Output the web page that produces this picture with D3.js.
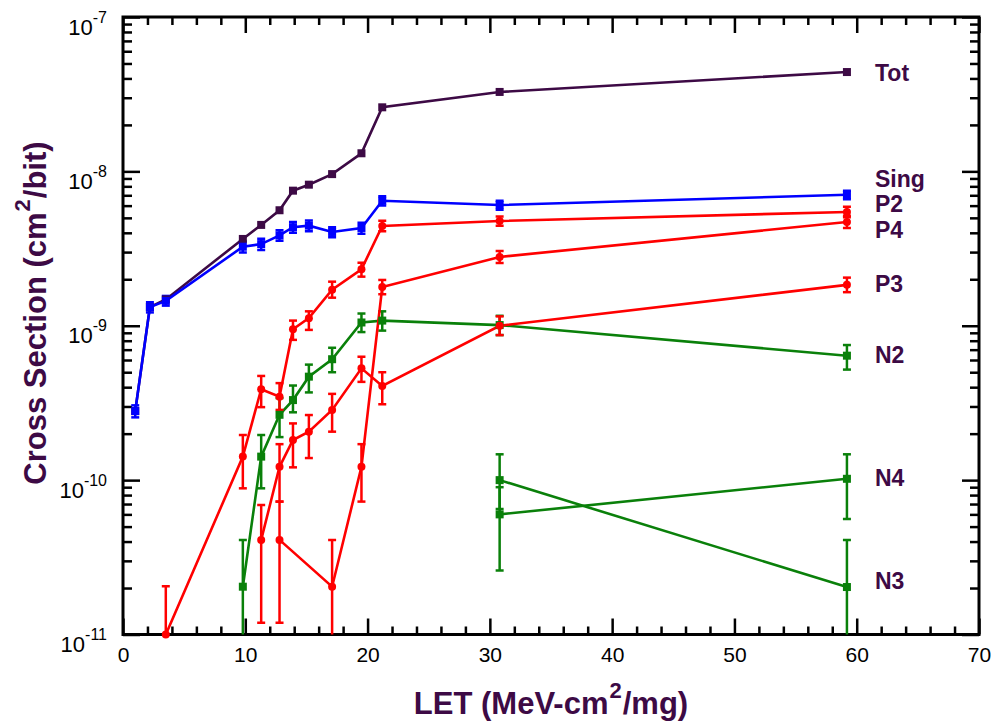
<!DOCTYPE html>
<html>
<head>
<meta charset="utf-8">
<script src="https://cdn.jsdelivr.net/npm/d3@7"></script>
<style>
  body { margin: 0; background: #fff; }
  svg { display: block; font-family: "Liberation Sans", Arial, sans-serif; }
</style>
</head>
<body>
<svg id="chart" width="993" height="723"></svg>
<script>
// LET values (MeV-cm2/mg)
const letSing = [1.0, 2.2, 3.5, 9.8, 11.3, 12.8, 13.9, 15.2, 17.1, 19.5, 21.2, 30.8, 59.2];
const letP2 = [3.5, 9.8, 11.3, 12.8, 13.9, 15.2, 17.1, 19.5, 21.2, 30.8, 59.2];
const letP3 = [11.3, 12.8, 13.9, 15.2, 17.1, 19.5, 21.2, 30.8, 59.2];
const letP4 = [12.8, 17.1, 19.5, 21.2, 30.8, 59.2];
const letN2 = [9.8, 11.3, 12.8, 13.9, 15.2, 17.1, 19.5, 21.2, 30.8, 59.2];
const letN34 = [30.8, 59.2];

// cross sections (cm2/bit), with lower / upper error ends
const tot = [2.8e-10, 1.32e-9, 1.48e-9, 3.65e-9, 4.5e-9, 5.6e-9, 7.5e-9, 8.2e-9, 9.6e-9, 1.31e-8, 2.6e-8, 3.27e-8, 4.4e-8];

const sing   = [2.8e-10, 1.32e-9, 1.45e-9, 3.25e-9, 3.38e-9, 3.85e-9, 4.35e-9, 4.45e-9, 4.05e-9, 4.3e-9, 6.45e-9, 6.05e-9, 7.05e-9];
const singLo = [2.55e-10, 1.22e-9, 1.35e-9, 2.98e-9, 3.1e-9, 3.55e-9, 4.0e-9, 4.1e-9, 3.75e-9, 3.95e-9, 6.0e-9, 5.65e-9, 6.6e-9];
const singHi = [3.05e-10, 1.42e-9, 1.56e-9, 3.52e-9, 3.66e-9, 4.15e-9, 4.7e-9, 4.8e-9, 4.35e-9, 4.65e-9, 6.9e-9, 6.45e-9, 7.5e-9];

const p2   = [1.0e-11, 1.42e-10, 3.88e-10, 3.47e-10, 9.5e-10, 1.12e-9, 1.71e-9, 2.32e-9, 4.43e-9, 4.77e-9, 5.46e-9];
const p2Lo = [5e-12, 8.85e-11, 2.97e-10, 2.85e-10, 8.1e-10, 9.4e-10, 1.52e-9, 2.08e-9, 4.1e-9, 4.45e-9, 5.05e-9];
const p2Hi = [2.05e-11, 1.96e-10, 4.73e-10, 4.25e-10, 1.08e-9, 1.24e-9, 1.93e-9, 2.56e-9, 4.78e-9, 5.1e-9, 5.9e-9];

const p3   = [4.1e-11, 1.22e-10, 1.82e-10, 2.06e-10, 2.85e-10, 5.3e-10, 4.07e-10, 1.0e-9, 1.84e-9];
const p3Lo = [1.19e-11, 7.26e-11, 1.21e-10, 1.39e-10, 2.06e-10, 4.33e-10, 3.1e-10, 8.7e-10, 1.65e-9];
const p3Hi = [6.9e-11, 1.71e-10, 2.33e-10, 2.64e-10, 3.62e-10, 6.3e-10, 5.0e-10, 1.15e-9, 2.05e-9];

const p4   = [4.1e-11, 2.04e-11, 1.22e-10, 1.78e-9, 2.79e-9, 4.7e-9];
const p4Lo = [1.19e-11, 5e-12, 7.26e-11, 1.6e-9, 2.55e-9, 4.3e-9];
const p4Hi = [7.26e-11, 4.1e-11, 1.71e-10, 1.98e-9, 3.05e-9, 5.15e-9];

const n2   = [2.04e-11, 1.42e-10, 2.65e-10, 3.3e-10, 4.68e-10, 6.07e-10, 1.05e-9, 1.08e-9, 1.01e-9, 6.4e-10];
const n2Lo = [5e-12, 8.85e-11, 1.9e-10, 2.75e-10, 3.7e-10, 5.0e-10, 9.1e-10, 9.3e-10, 8.7e-10, 5.2e-10];
const n2Hi = [4.1e-11, 1.96e-10, 3.4e-10, 4.1e-10, 5.6e-10, 7.2e-10, 1.2e-9, 1.24e-9, 1.16e-9, 7.5e-10];

const n4   = [6.0e-11, 1.02e-10];
const n4Lo = [2.6e-11, 5.6e-11];
const n4Hi = [9.0e-11, 1.47e-10];

const n3   = [1.0e-10, 2.03e-11];
const n3Lo = [6.5e-11, 5e-12];
const n3Hi = [1.47e-10, 4.1e-11];

// curve names at the right, and where they sit
const labelNames = ["Tot", "Sing", "P2", "P4", "P3", "N2", "N4", "N3"];
const labelPos = [4.35e-8, 8.9e-9, 6.15e-9, 4.17e-9, 1.87e-9, 6.47e-10, 1.03e-10, 2.22e-11];

const xTicks = [0, 10, 20, 30, 40, 50, 60, 70];
const yTicks = [1e-11, 1e-10, 1e-9, 1e-8, 1e-7];

const purple = "#3d0a45", blue = "#0000ff", red = "#ff0000", green = "#0a800a";

let svg = d3.select("#chart");
let pLeft = 123, pRight = 979, pTop = 17, pBottom = 634.5;

let x = d3.scaleLinear().domain([0, 70]).range([pLeft, pRight]);
let y = d3.scaleLog().domain([1e-11, 1e-7]).range([pBottom, pTop]);

svg.append("clipPath").attr("id", "clip")
  .append("rect")
  .attr("x", pLeft).attr("y", pTop)
  .attr("width", pRight - pLeft).attr("height", pBottom - pTop);

// minor ticks: every 2 on x, 2..9 per decade on y
let xMinor = d3.range(0, 71, 2).filter(d => d % 10 !== 0);
let yMinor = [];
yTicks.slice(0, -1).forEach(d => { for (let k = 2; k <= 9; k++) yMinor.push(d * k); });

function styleAxis(g) {
  g.select(".domain").remove();
  g.selectAll(".tick line").attr("stroke", "#000").attr("stroke-width", 2.5);
}

svg.append("g").attr("transform", `translate(0,${pBottom})`)
  .call(d3.axisBottom(x).tickValues(xTicks).tickSize(-16).tickPadding(13).tickFormat(d3.format("d")))
  .call(styleAxis)
  .selectAll("text").attr("font-size", 21).attr("fill", "#000")
  .attr("font-family", "Liberation Sans, Arial, sans-serif");
svg.append("g").attr("transform", `translate(0,${pBottom})`)
  .call(d3.axisBottom(x).tickValues(xMinor).tickSize(-8).tickFormat(""))
  .call(styleAxis);
svg.append("g").attr("transform", `translate(0,${pTop})`)
  .call(d3.axisTop(x).tickValues(xTicks).tickSize(-16).tickFormat(""))
  .call(styleAxis);
svg.append("g").attr("transform", `translate(0,${pTop})`)
  .call(d3.axisTop(x).tickValues(xMinor).tickSize(-8).tickFormat(""))
  .call(styleAxis);

let yAxisG = svg.append("g").attr("transform", `translate(${pLeft},0)`)
  .call(d3.axisLeft(y).tickValues(yTicks).tickSize(-17).tickFormat(""))
  .call(styleAxis);
svg.append("g").attr("transform", `translate(${pLeft},0)`)
  .call(d3.axisLeft(y).tickValues(yMinor).tickSize(-9).tickFormat(""))
  .call(styleAxis);
svg.append("g").attr("transform", `translate(${pRight},0)`)
  .call(d3.axisRight(y).tickValues(yTicks).tickSize(-17).tickFormat(""))
  .call(styleAxis);
svg.append("g").attr("transform", `translate(${pRight},0)`)
  .call(d3.axisRight(y).tickValues(yMinor).tickSize(-9).tickFormat(""))
  .call(styleAxis);

// y tick labels as 10 with superscript exponent
yAxisG.selectAll(".tick").each(function (d) {
  let t = d3.select(this).append("text")
    .attr("x", -16).attr("y", 17)
    .attr("text-anchor", "end")
    .attr("fill", "#000")
    .attr("font-size", 22);
  t.append("tspan").text("10");
  t.append("tspan").attr("font-size", 16).attr("dy", -12)
    .text(Math.round(Math.log10(d)));
});

// frame
svg.append("rect")
  .attr("x", pLeft).attr("y", pTop)
  .attr("width", pRight - pLeft).attr("height", pBottom - pTop)
  .attr("fill", "none").attr("stroke", "#000").attr("stroke-width", 3);

let plot = svg.append("g");
let clipped = plot.append("g").attr("clip-path", "url(#clip)");

let line = d3.line().x(d => x(d[0])).y(d => y(d[1]));

function drawSeries(lets, vals, lo, hi, color, shape) {
  let pts = lets.map((l, i) => [l, vals[i]]);
  if (lo) {
    lets.forEach((l, i) => {
      let px = x(l);
      let g = clipped.append("g").attr("stroke", color).attr("stroke-width", 2.5);
      g.append("line").attr("x1", px).attr("x2", px).attr("y1", y(lo[i])).attr("y2", y(hi[i]));
      g.append("line").attr("x1", px - 4).attr("x2", px + 4).attr("y1", y(lo[i])).attr("y2", y(lo[i]));
      g.append("line").attr("x1", px - 4).attr("x2", px + 4).attr("y1", y(hi[i])).attr("y2", y(hi[i]));
    });
  }
  clipped.append("path").datum(pts)
    .attr("fill", "none").attr("stroke", color).attr("stroke-width", 2.6)
    .attr("d", line);
  if (shape === "circle") {
    plot.selectAll(null).data(pts).enter().append("circle")
      .attr("cx", d => x(d[0])).attr("cy", d => y(d[1])).attr("r", 4)
      .attr("fill", color);
  } else {
    plot.selectAll(null).data(pts).enter().append("rect")
      .attr("x", d => x(d[0]) - 4).attr("y", d => y(d[1]) - 4)
      .attr("width", 8).attr("height", 8)
      .attr("fill", color);
  }
}

drawSeries(letSing, tot, null, null, purple, "square");
drawSeries(letN2, n2, n2Lo, n2Hi, green, "square");
drawSeries(letN34, n4, n4Lo, n4Hi, green, "square");
drawSeries(letN34, n3, n3Lo, n3Hi, green, "square");
drawSeries(letP2, p2, p2Lo, p2Hi, red, "circle");
drawSeries(letP3, p3, p3Lo, p3Hi, red, "circle");
drawSeries(letP4, p4, p4Lo, p4Hi, red, "circle");
drawSeries(letSing, sing, singLo, singHi, blue, "square");

// curve names
svg.selectAll(".curveLabel").data(labelNames).enter().append("text")
  .attr("class", "curveLabel")
  .attr("x", 875)
  .attr("y", (d, i) => y(labelPos[i]) + 8)
  .attr("font-size", 23).attr("font-weight", "bold")
  .attr("fill", purple)
  .text(d => d);

// axis titles
let xt = svg.append("text")
  .attr("x", 551).attr("y", 714)
  .attr("text-anchor", "middle")
  .attr("font-size", 31).attr("font-weight", "bold").attr("fill", purple);
xt.append("tspan").text("LET (MeV-cm");
xt.append("tspan").attr("font-size", 22).attr("dx", 1).attr("dy", -16).text("2");
xt.append("tspan").attr("dx", 1).attr("dy", 16).text("/mg)");

let yt = svg.append("text")
  .attr("transform", "translate(46,313) rotate(-90)")
  .attr("text-anchor", "middle")
  .attr("font-size", 31).attr("font-weight", "bold").attr("fill", purple);
yt.append("tspan").text("Cross Section (cm");
yt.append("tspan").attr("font-size", 22).attr("dx", 1).attr("dy", -16).text("2");
yt.append("tspan").attr("dx", 1).attr("dy", 16).text("/bit)");
</script>
</body>
</html>
